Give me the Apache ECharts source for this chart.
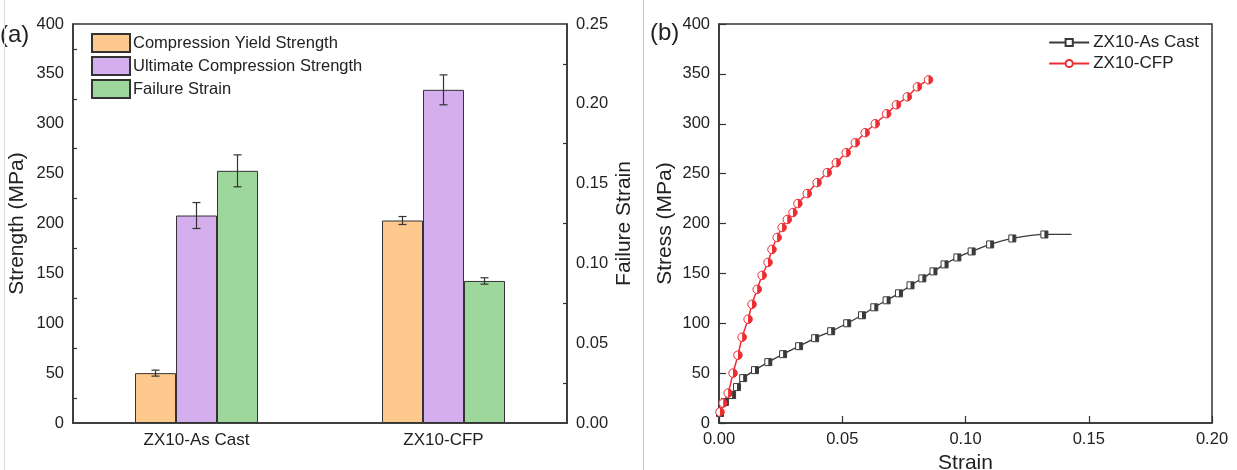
<!DOCTYPE html>
<html>
<head>
<meta charset="utf-8">
<script src="https://cdn.jsdelivr.net/npm/echarts@6/dist/echarts.min.js"></script>
<style>
  html, body { margin: 0; padding: 0; background: #fff; }
  #chart { width: 1237px; height: 470px; }
</style>
</head>
<body>
<div id="chart"></div>
<script>
// panel (a): bars
const CATEGORIES = ['ZX10-As Cast', 'ZX10-CFP'];
const YIELD = [50, 203];
const YIELD_ERR = [3, 4];
const ULTIMATE = [208, 334];
const ULTIMATE_ERR = [13, 15];
const FAILURE = [0.158, 0.089];
const FAILURE_ERR = [0.01, 0.002];

// panel (b): stress-strain curves [strain, stress]
const AS_CAST = [
  [0.0004, 10], [0.0024, 21], [0.0053, 28], [0.0073, 36], [0.0098, 45],
  [0.0146, 53], [0.020, 61], [0.026, 69], [0.0325, 77], [0.039, 85],
  [0.0455, 92], [0.052, 100], [0.058, 108], [0.063, 116], [0.068, 123],
  [0.073, 130], [0.0777, 138], [0.0825, 145], [0.087, 152], [0.0915, 159],
  [0.0967, 166], [0.1025, 172], [0.110, 179], [0.119, 185], [0.132, 189]
];
const AS_CAST_TAIL = [0.143, 189];
const CFP = [
  [0.0004, 11], [0.0017, 20], [0.0037, 30], [0.0057, 50], [0.0077, 68],
  [0.0094, 86], [0.0118, 104], [0.0134, 119], [0.0155, 134], [0.0175, 148],
  [0.0199, 161], [0.0215, 174], [0.0236, 186], [0.0256, 196], [0.0277, 204],
  [0.030, 211], [0.032, 220], [0.0358, 230], [0.0398, 241], [0.0439, 251],
  [0.0476, 261], [0.0516, 271], [0.0553, 281], [0.0593, 291], [0.0634, 300],
  [0.068, 310], [0.072, 319], [0.0764, 327], [0.0805, 337], [0.085, 344]
];

const FONT = 'Liberation Sans';
const INK = '#222';
const BAR_W = 41;
const ORANGE = '#fdc98d';
const PURPLE = '#d5aeee';
const GREEN = '#9dd79b';
const GRAY = '#3a3a3a';
const RED = '#ec2d33';

let chart = echarts.init(document.getElementById('chart'));

function errorSeries(name, values, errs, slot, yAxisIndex) {
  return {
    type: 'custom',
    name: name,
    xAxisIndex: 0,
    yAxisIndex: yAxisIndex,
    z: 5,
    data: values.map((v, i) => [i, v - errs[i], v + errs[i]]),
    renderItem: (params, api) => {
      let lo = api.coord([api.value(0), api.value(1)]);
      let hi = api.coord([api.value(0), api.value(2)]);
      let x = lo[0] + (slot - 1) * BAR_W;
      let cap = 4;
      let style = { stroke: '#333', lineWidth: 1.2 };
      return {
        type: 'group',
        children: [
          { type: 'line', shape: { x1: x, y1: lo[1], x2: x, y2: hi[1] }, style: style },
          { type: 'line', shape: { x1: x - cap, y1: lo[1], x2: x + cap, y2: lo[1] }, style: style },
          { type: 'line', shape: { x1: x - cap, y1: hi[1], x2: x + cap, y2: hi[1] }, style: style }
        ]
      };
    }
  };
}

function barSeries(name, values, color, yAxisIndex) {
  return {
    type: 'bar',
    name: name,
    xAxisIndex: 0,
    yAxisIndex: yAxisIndex,
    data: values,
    barWidth: BAR_W,
    barGap: '0%',
    itemStyle: { color: color, borderColor: '#333', borderWidth: 1 }
  };
}

let axisLabel = { color: INK, fontFamily: FONT, fontSize: 16.5 };
let axisLine = { show: true, lineStyle: { color: '#333', width: 1.5 } };
let nameStyle = { color: INK, fontFamily: FONT, fontSize: 21 };

let option = {
  animation: false,
  backgroundColor: '#fff',
  textStyle: { fontFamily: FONT },
  grid: [
    { left: 73, right: 670, top: 24, bottom: 47, outerBoundsMode: 'none', show: true, borderColor: '#333', borderWidth: 1.5 },
    { left: 719, right: 25, top: 24, bottom: 47, outerBoundsMode: 'none', show: true, borderColor: '#333', borderWidth: 1.5 }
  ],
  legend: [
    {
      left: 86, top: 28, orient: 'vertical', itemGap: 3,
      itemWidth: 38, itemHeight: 18, icon: 'rect',
      textStyle: { color: INK, fontFamily: FONT, fontSize: 16.5, padding: [0, 0, 0, -2] },
      data: ['Compression Yield Strength', 'Ultimate Compression Strength', 'Failure Strain']
    },
    {
      right: 33, top: 29, orient: 'vertical', itemGap: 4,
      itemWidth: 40, itemHeight: 9,
      textStyle: { color: INK, fontFamily: FONT, fontSize: 17, padding: [0, 0, 0, -1] },
      data: ['ZX10-As Cast', 'ZX10-CFP']
    }
  ],
  xAxis: [
    {
      type: 'category', gridIndex: 0, data: CATEGORIES,
      axisLine: axisLine, axisTick: { show: false },
      axisLabel: Object.assign({ margin: 9 }, axisLabel, { fontSize: 17 })
    },
    {
      type: 'value', gridIndex: 1, min: 0, max: 0.2, interval: 0.05,
      name: 'Strain', nameLocation: 'middle', nameGap: 26,
      nameTextStyle: nameStyle,
      axisLine: axisLine,
      axisTick: { inside: true, length: 7, lineStyle: { color: '#333', width: 1.2 } },
      axisLabel: Object.assign({ margin: 8, formatter: v => v.toFixed(2) }, axisLabel),
      splitLine: { show: false }
    }
  ],
  yAxis: [
    {
      type: 'value', gridIndex: 0, min: 0, max: 400, interval: 50,
      name: 'Strength (MPa)', nameLocation: 'middle', nameGap: 45,
      nameTextStyle: nameStyle,
      axisLine: axisLine,
      axisTick: { inside: true, length: 8, lineStyle: { color: '#333', width: 1.2 } },
      minorTick: { show: true, splitNumber: 2, length: 4, lineStyle: { color: '#333', width: 1.2 } },
      axisLabel: Object.assign({ margin: 9 }, axisLabel),
      splitLine: { show: false }
    },
    {
      type: 'value', gridIndex: 0, position: 'right', min: 0, max: 0.25, interval: 0.05,
      name: 'Failure Strain', nameLocation: 'middle', nameGap: 47,
      nameTextStyle: nameStyle,
      axisLine: axisLine,
      axisTick: { inside: true, length: 8, lineStyle: { color: '#333', width: 1.2 } },
      minorTick: { show: true, splitNumber: 2, length: 4, lineStyle: { color: '#333', width: 1.2 } },
      axisLabel: Object.assign({ margin: 9, formatter: v => v.toFixed(2) }, axisLabel),
      splitLine: { show: false }
    },
    {
      type: 'value', gridIndex: 1, min: 0, max: 400, interval: 50,
      name: 'Stress (MPa)', nameLocation: 'middle', nameGap: 43,
      nameTextStyle: nameStyle,
      axisLine: axisLine,
      axisTick: { inside: true, length: 7, lineStyle: { color: '#333', width: 1.2 } },
      axisLabel: Object.assign({ margin: 9 }, axisLabel),
      splitLine: { show: false }
    }
  ],
  series: [
    barSeries('Compression Yield Strength', YIELD, ORANGE, 0),
    barSeries('Ultimate Compression Strength', ULTIMATE, PURPLE, 0),
    barSeries('Failure Strain', FAILURE, GREEN, 1),
    errorSeries('err-yield', YIELD, YIELD_ERR, 0, 0),
    errorSeries('err-ultimate', ULTIMATE, ULTIMATE_ERR, 1, 0),
    errorSeries('err-failure', FAILURE, FAILURE_ERR, 2, 1),
    {
      type: 'line', name: 'ZX10-As Cast', xAxisIndex: 1, yAxisIndex: 2,
      data: AS_CAST.concat([{ value: AS_CAST_TAIL, symbol: 'none' }]),
      smooth: 0.3,
      symbol: 'rect', symbolSize: 7,
      lineStyle: { color: GRAY, width: 1.3 },
      itemStyle: { color: '#fff', borderColor: GRAY, borderWidth: 1 },
      z: 3
    },
    {
      type: 'line', name: 'as-cast-fill', xAxisIndex: 1, yAxisIndex: 2,
      data: AS_CAST,
      symbol: 'rect', symbolSize: [3.5, 7], symbolOffset: [1.75, 0],
      lineStyle: { width: 0, opacity: 0 },
      itemStyle: { color: GRAY },
      z: 4
    },
    {
      type: 'line', name: 'ZX10-CFP', xAxisIndex: 1, yAxisIndex: 2,
      data: CFP,
      smooth: 0.3,
      symbol: 'circle', symbolSize: 8.5,
      lineStyle: { color: RED, width: 1.5 },
      itemStyle: { color: '#fff', borderColor: RED, borderWidth: 1 },
      z: 3
    },
    {
      type: 'line', name: 'cfp-fill', xAxisIndex: 1, yAxisIndex: 2,
      data: CFP,
      symbol: 'path://M0,0 A10,10 0 0,1 0,20 Z', symbolSize: [4.25, 8.5], symbolOffset: [2.1, 0],
      lineStyle: { width: 0, opacity: 0 },
      itemStyle: { color: RED },
      z: 4
    }
  ],
  graphic: [
    { type: 'text', left: 0, top: 23, style: { text: '(a)', fontFamily: FONT, fontSize: 24, fill: INK } },
    { type: 'text', left: 650, top: 21, style: { text: '(b)', fontFamily: FONT, fontSize: 24, fill: INK } },
    { type: 'rect', left: 643, top: 0, shape: { width: 1, height: 470 }, style: { fill: '#c8c8c8' } },
    { type: 'rect', left: 4, top: 0, shape: { width: 1, height: 470 }, style: { fill: '#dcdcdc' } }
  ]
};

chart.setOption(option);
</script>
</body>
</html>
